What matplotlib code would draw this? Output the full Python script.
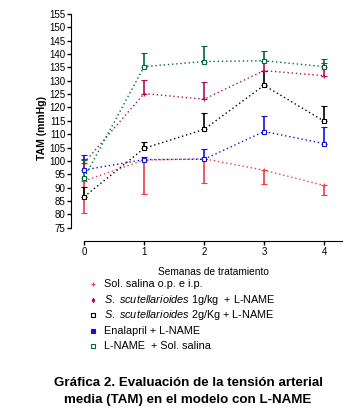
import numpy as np
import matplotlib.pyplot as plt

plt.rcParams['font.family'] = ['Liberation Sans', 'DejaVu Sans']
plt.rcParams['mathtext.fontset'] = 'custom'
plt.rcParams['mathtext.it'] = 'Liberation Sans:italic'
plt.rcParams['mathtext.rm'] = 'Liberation Sans'

semanas = [0, 1, 2, 3, 4]

# medias y error (una sola rama) por grupo
salina = [92.5, 100.3, 100.8, 96.5, 90.8]
salina_err = [12.0, 12.8, 9.2, 5.3, 3.4]          # hacia abajo
scut1 = [99.3, 125.2, 123.1, 133.8, 131.9]
scut1_err = [1.5, 5.1, 6.6, 3.7, 4.9]
scut2 = [86.6, 104.7, 111.8, 128.3, 114.9]
scut2_err = [3.6, 2.4, 6.2, 5.5, 5.8]
enalapril = [96.6, 100.5, 100.6, 111.0, 106.5]
enalapril_err = [5.7, 1.0, 4.0, 5.8, 6.1]
lname = [93.7, 135.3, 137.2, 137.5, 135.3]
lname_err = [6.6, 5.2, 6.0, 3.8, 3.0]

etiquetas = ["Sol. salina o.p. e i.p.",
             r"$\it{S.\ scutellarioides}$ 1g/kg  + L-NAME",
             r"$\it{S.\ scutellarioides}$ 2g/Kg + L-NAME",
             "Enalapril + L-NAME",
             "L-NAME  + Sol. salina"]

fig = plt.figure(figsize=(3.55, 4.15), dpi=100)
ax = fig.add_axes([71/355, 1-241/415, (342-71)/355, (241-14)/415])

x = np.array(semanas)

def serie(y, err, color, marker, ms, mfc, abajo=False):
    y = np.array(y); err = np.array(err)
    yerr = [err, np.zeros_like(err)] if abajo else [np.zeros_like(err), err]
    ax.errorbar(x, y, yerr=yerr, color=color, ls=(0, (1, 2)), lw=1.0,
                marker=marker, ms=ms, mfc=mfc, mec=color, mew=0.8,
                elinewidth=1.2, capsize=2.5, capthick=1.0)

serie(salina, salina_err, "#f03c46", "+", 3, "#f03c46", abajo=True)
serie(scut1, scut1_err, "#b0105a", "+", 3, "#b0105a")
serie(scut2, scut2_err, "black", "s", 2.5, "white")
serie(enalapril, enalapril_err, "#1010e0", "s", 2.5, "white")
serie(lname, lname_err, "#006a46", "s", 2.5, "white")

ax.set_xlim(-0.22, 4.3)
ax.set_ylim(70, 155)
ax.set_yticks(np.arange(75, 156, 5))
ax.set_xticks(semanas)
ax.spines['left'].set_bounds(75, 155)
ax.spines['bottom'].set_bounds(0, 4.3)
ax.spines['top'].set_visible(False)
ax.spines['right'].set_visible(False)
ax.tick_params(labelsize=7, length=3, width=1, pad=1)
ax.set_ylabel("TAM (mmHg)", fontsize=7.5, fontweight='bold', labelpad=2)
ax.set_xlabel("Semanas de tratamiento", fontsize=7.3, labelpad=6)
ax.xaxis.set_label_coords((213-71)/271, -0.115)

# leyenda manual
colores = ["#f03c46", "#b0105a", "black", "#1010e0", "#006a46"]
marcas = ["+", "d", "s", "s", "s"]
rellenos = ["#f03c46", "#b0105a", "white", "#1010e0", "white"]
ys = [284, 300, 315, 331, 346]
for c, m, f, yy, t in zip(colores, marcas, rellenos, ys, etiquetas):
    fig.text(104/355, 1-yy/415, t, fontsize=7.8, va='center')
    fig.lines.append(plt.Line2D([93/355], [1-yy/415], marker=m, ms=2.2,
                                color=c, mfc=f, mec=c, mew=0.8,
                                transform=fig.transFigure))

fig.text(188/355, 1-383/415, "Gráfica 2. Evaluación de la tensión arterial",
         fontsize=9.6, fontweight='bold', ha='center', va='center')
fig.text(188/355, 1-400/415, "media (TAM) en el modelo con L-NAME",
         fontsize=9.6, fontweight='bold', ha='center', va='center')

fig.savefig("out.png", dpi=100)
